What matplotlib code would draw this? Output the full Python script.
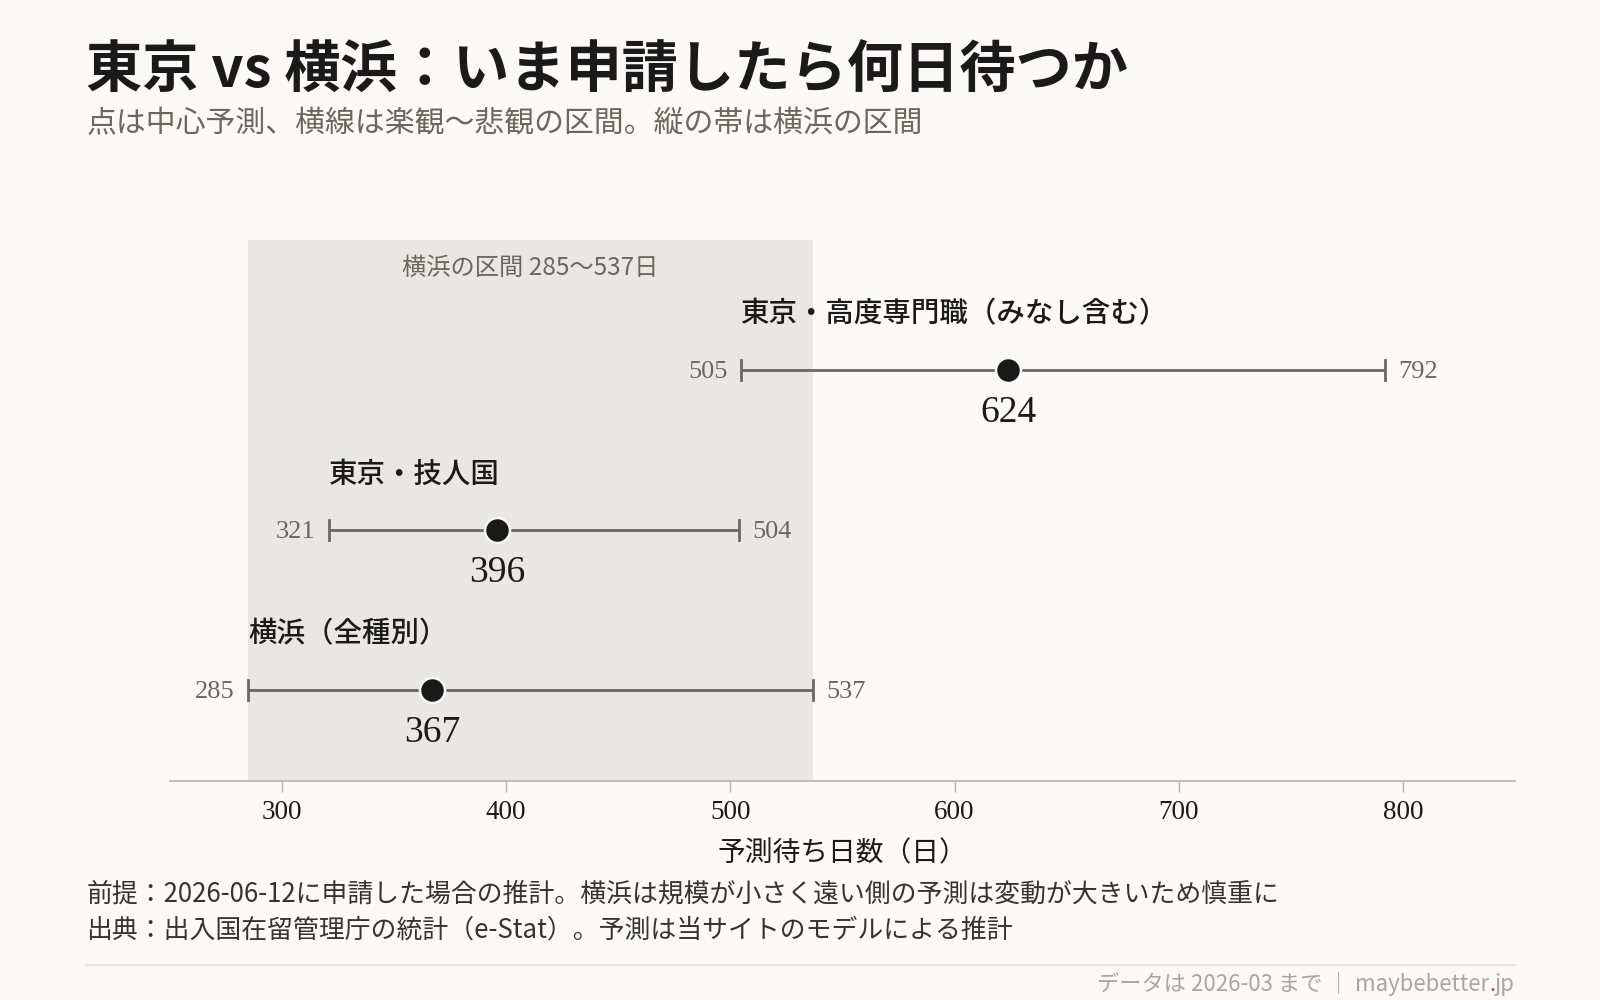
"""Tokyo vs Yokohama: predicted waiting days if applying now (interval chart)."""
import matplotlib
matplotlib.use("Agg")
import matplotlib.pyplot as plt

plt.rcParams["font.family"] = ["Noto Sans CJK JP", "DejaVu Sans"]

# data
labels = ["東京・高度専門職（みなし含む）", "東京・技人国", "横浜（全種別）"]
center = [624, 396, 367]
low = [505, 321, 285]
high = [792, 504, 537]
band_low, band_high = 285, 537
xticks = [300, 400, 500, 600, 700, 800]

BG = "#faf9f6"
BAND = "#e8e7e3"
LINE = "#6b6761"
GRAY = "#6b665f"
INK = "#1a1a1a"
FOOT = "#a8a6a1"
NUM = ["Liberation Serif", "Noto Sans CJK JP"]

fig = plt.figure(figsize=(16, 10), dpi=100, facecolor=BG)
ax = fig.add_axes([0.106, 0.219, 0.841, 0.541], facecolor=BG)
ax.set_xlim(250, 850)
ax.set_ylim(2.569, -0.8125)

ax.axvspan(band_low, band_high, color=BAND, lw=0, zorder=0)
ax.text((band_low + band_high) / 2, -0.64, f"横浜の区間 {band_low}～{band_high}日",
        ha="center", va="center", fontsize=17.5, color=GRAY)

for i, (lab, c, lo, hi) in enumerate(zip(labels, center, low, high)):
    ax.plot([lo, hi], [i, i], color=LINE, lw=2.0, zorder=2, solid_capstyle="butt")
    ax.plot([lo, lo], [i - 0.06, i + 0.06], color=LINE, lw=2.0, zorder=2)
    ax.plot([hi, hi], [i - 0.06, i + 0.06], color=LINE, lw=2.0, zorder=2)
    ax.plot(c, i, "o", ms=18, color=INK, mec=BG, mew=1.8, zorder=3)
    ax.text(lo - 6, i + 0.015, f"{lo}", ha="right", va="center", fontsize=19,
            color=GRAY, family=NUM)
    ax.text(hi + 6, i + 0.015, f"{hi}", ha="left", va="center", fontsize=19,
            color=GRAY, family=NUM)
    ax.text(c, i + 0.27, f"{c}", ha="center", va="center", fontsize=27,
            color=INK, family=NUM)
    ax.text(lo, i - 0.35, lab, ha="left", va="center", fontsize=20.5,
            color=INK, fontweight="medium")

for s in ["top", "right", "left"]:
    ax.spines[s].set_visible(False)
ax.spines["bottom"].set_color("#b5b3ae")
ax.spines["bottom"].set_linewidth(1.2)
ax.set_yticks([])
ax.set_xticks(xticks)
ax.set_xticklabels([str(t) for t in xticks], family=NUM, fontsize=19.5, color=INK)
ax.tick_params(axis="x", length=8, width=1, color="#b5b3ae", pad=6)
ax.set_xlabel("予測待ち日数（日）", fontsize=20, color=INK, labelpad=9)

fig.text(0.054, 0.912, "東京 vs 横浜：いま申請したら何日待つか",
         fontsize=40.5, fontweight="bold", color=INK, va="baseline")
fig.text(0.054, 0.868, "点は中心予測、横線は楽観～悲観の区間。縦の帯は横浜の区間",
         fontsize=21.5, color=GRAY, va="baseline")

fig.text(0.054, 0.098, "前提：2026-06-12に申請した場合の推計。横浜は規模が小さく遠い側の予測は変動が大きいため慎重に",
         fontsize=18.6, color="#333333", va="baseline")
fig.text(0.054, 0.062, "出典：出入国在留管理庁の統計（e-Stat）。予測は当サイトのモデルによる推計",
         fontsize=18.6, color="#333333", va="baseline")

fig.add_artist(plt.Line2D([0.054, 0.947], [0.035, 0.035], color="#e4e2dd", lw=1.2))

# footer: right-aligned pieces chained leftwards, red dot in the domain
t1 = fig.text(0.947, 0.004, "jp", ha="right", va="bottom", fontsize=16, color=FOOT)
t2 = ax.annotate(".", xy=(0, 0), xycoords=t1, ha="right", va="bottom",
                 fontsize=16, color="#c0392b", annotation_clip=False)
t3 = ax.annotate("maybebetter", xy=(0, 0), xycoords=t2, ha="right", va="bottom",
                 fontsize=16, color=FOOT, annotation_clip=False)
ax.annotate("データは 2026-03 まで ｜ ", xy=(0, 0), xycoords=t3, ha="right",
            va="bottom", fontsize=16, color=FOOT, annotation_clip=False)

fig.savefig("out.png", dpi=100, facecolor=BG)
